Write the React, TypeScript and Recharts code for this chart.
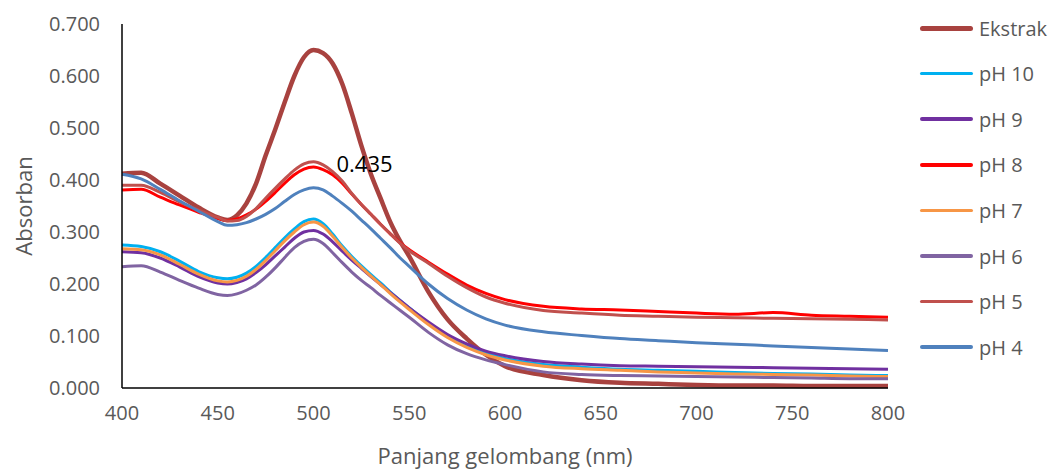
import React from 'react';
import { LineChart, Line, XAxis, YAxis, Label, LabelList } from 'recharts';

const wavelengths = [
  400, 410, 420, 430, 440, 450, 455, 460, 465, 470, 475, 480, 485, 490, 495, 500, 505, 510, 515, 520, 525,
  530, 535, 540, 545, 550, 560, 570, 580, 590, 600, 620, 640, 660, 680, 700, 720, 740, 760, 780, 800,
];

const ekstrak = [
  0.412, 0.414, 0.393, 0.37, 0.347, 0.328, 0.323, 0.332, 0.355, 0.393, 0.447, 0.497, 0.55, 0.6, 0.636, 0.65, 0.644,
  0.624, 0.585, 0.528, 0.466, 0.411, 0.365, 0.32, 0.284, 0.253, 0.185, 0.132, 0.095, 0.064, 0.042, 0.025, 0.015,
  0.01, 0.008, 0.006, 0.005, 0.005, 0.004, 0.004, 0.004,
];
const ph10 = [
  0.275, 0.272, 0.262, 0.244, 0.224, 0.212, 0.21, 0.213, 0.221, 0.234, 0.251, 0.27, 0.289, 0.306, 0.32, 0.325, 0.316,
  0.296, 0.273, 0.253, 0.235, 0.218, 0.202, 0.185, 0.169, 0.154, 0.125, 0.1, 0.081, 0.067, 0.057, 0.045, 0.04, 0.036,
  0.034, 0.032, 0.03, 0.028, 0.027, 0.025, 0.024,
];
const ph9 = [
  0.262, 0.26, 0.25, 0.233, 0.214, 0.202, 0.2, 0.203, 0.21, 0.222, 0.237, 0.254, 0.271, 0.288, 0.3, 0.303, 0.296,
  0.281, 0.263, 0.246, 0.23, 0.214, 0.199, 0.184, 0.169, 0.154, 0.127, 0.103, 0.085, 0.071, 0.062, 0.051, 0.046,
  0.043, 0.042, 0.041, 0.04, 0.039, 0.038, 0.037, 0.036,
];
const ph8 = [
  0.381, 0.382, 0.367, 0.352, 0.338, 0.326, 0.322, 0.325, 0.333, 0.344, 0.359, 0.376, 0.394, 0.41, 0.421, 0.425,
  0.42, 0.41, 0.394, 0.373, 0.353, 0.334, 0.315, 0.297, 0.28, 0.266, 0.242, 0.219, 0.198, 0.182, 0.17, 0.157, 0.152,
  0.15, 0.147, 0.144, 0.142, 0.145, 0.14, 0.138, 0.136,
];
const ph7 = [
  0.268, 0.266, 0.256, 0.238, 0.219, 0.206, 0.204, 0.207, 0.215, 0.228, 0.245, 0.264, 0.283, 0.3, 0.314, 0.319,
  0.311, 0.292, 0.27, 0.25, 0.232, 0.215, 0.199, 0.182, 0.166, 0.151, 0.122, 0.097, 0.078, 0.064, 0.054, 0.042,
  0.037, 0.034, 0.031, 0.029, 0.027, 0.026, 0.025, 0.023, 0.022,
];
const ph6 = [
  0.233, 0.235, 0.223, 0.207, 0.192, 0.18, 0.178, 0.181, 0.188, 0.198, 0.213, 0.231, 0.251, 0.27, 0.282, 0.286,
  0.278, 0.26, 0.241, 0.223, 0.207, 0.193, 0.178, 0.164, 0.15, 0.136, 0.107, 0.083, 0.066, 0.054, 0.045, 0.031,
  0.026, 0.024, 0.023, 0.022, 0.021, 0.02, 0.019, 0.018, 0.018,
];
const ph5 = [
  0.39, 0.39, 0.376, 0.358, 0.342, 0.328, 0.321, 0.322, 0.33, 0.345, 0.365, 0.384, 0.402, 0.419, 0.431, 0.435, 0.429,
  0.416, 0.398, 0.374, 0.353, 0.334, 0.315, 0.297, 0.279, 0.264, 0.24, 0.215, 0.193, 0.175, 0.163, 0.149, 0.144,
  0.14, 0.138, 0.136, 0.135, 0.134, 0.133, 0.132, 0.131,
];
const ph4 = [
  0.411, 0.402, 0.382, 0.36, 0.34, 0.32, 0.313, 0.314, 0.318, 0.325, 0.334, 0.345, 0.359, 0.372, 0.381, 0.385, 0.381,
  0.369, 0.355, 0.34, 0.323, 0.306, 0.288, 0.27, 0.251, 0.234, 0.2, 0.172, 0.15, 0.133, 0.121, 0.108, 0.101, 0.095,
  0.091, 0.087, 0.084, 0.081, 0.078, 0.075, 0.072,
];

const xTicks = [400, 450, 500, 550, 600, 650, 700, 750, 800];
const yTicks = [0, 0.1, 0.2, 0.3, 0.4, 0.5, 0.6, 0.7];

const series = [
  { key: 'Ekstrak', values: ekstrak, color: '#A8423F', width: 4.5 },
  { key: 'pH 10', values: ph10, color: '#00B0F0', width: 3 },
  { key: 'pH 9', values: ph9, color: '#7030A0', width: 3 },
  { key: 'pH 8', values: ph8, color: '#FF0000', width: 3 },
  { key: 'pH 7', values: ph7, color: '#F79646', width: 3 },
  { key: 'pH 6', values: ph6, color: '#8064A2', width: 3 },
  { key: 'pH 5', values: ph5, color: '#C0504D', width: 3 },
  { key: 'pH 4', values: ph4, color: '#4F81BD', width: 3 },
];

const data = wavelengths.map((wl, i) => {
  const row: Record<string, number> = { wl };
  series.forEach(s => { row[s.key] = s.values[i]; });
  return row;
});

// the only point carrying a data label: the pH 5 maximum
const peakIdx = ph5.indexOf(Math.max(...ph5));

const FONT = "'Open Sans', sans-serif";
const GREY = '#595959';

const App = () => {
  return (
    <div style={{ position: 'absolute', left: 0, top: 0, width: 1051, height: 471, background: '#fff', fontFamily: FONT }}>
      <LineChart width={1051} height={471} data={data} margin={{ top: 24, right: 163, bottom: 0, left: 0 }}>
        <XAxis
          dataKey="wl"
          type="number"
          domain={[400, 800]}
          ticks={xTicks}
          stroke="#000"
          strokeWidth={1.5}
          tickLine={false}
          tickSize={0}
          tickMargin={18}
          height={83}
          tick={{ fill: GREY, fontSize: 20, fontFamily: FONT }}
        >
          <Label value="Panjang gelombang (nm)" position="insideBottom" offset={7} fill={GREY} fontSize={22} fontFamily={FONT} />
        </XAxis>
        <YAxis
          type="number"
          domain={[0, 0.7]}
          ticks={yTicks}
          stroke="#000"
          strokeWidth={1.5}
          tickLine={false}
          tickSize={0}
          tickMargin={22}
          width={122}
          tickFormatter={(v: number) => v.toFixed(3)}
          tick={{ fill: GREY, fontSize: 20, fontFamily: FONT }}
        >
          <Label
            value="Absorban"
            position="insideLeft"
            angle={-90}
            offset={24}
            fill={GREY}
            fontSize={22}
            fontFamily={FONT}
            style={{ textAnchor: 'middle' }}
          />
        </YAxis>
        {series.map(s => (
          <Line
            key={s.key}
            type="monotone"
            dataKey={s.key}
            stroke={s.color}
            strokeWidth={s.width}
            dot={false}
            activeDot={false}
            isAnimationActive={false}
          >
            {s.key === 'pH 5' && (
              <LabelList
                dataKey={s.key}
                content={(p: any) =>
                  p.index === peakIdx ? (
                    <text x={p.x + 23} y={p.y + 10} fill="#000" fontSize={22} fontFamily={FONT}>
                      {Number(p.value).toFixed(3)}
                    </text>
                  ) : null
                }
              />
            )}
          </Line>
        ))}
      </LineChart>
      {series.map((s, i) => (
        <div
          key={s.key}
          style={{ position: 'absolute', left: 920, top: 28 + i * 45.6 - 14, height: 28, display: 'flex', alignItems: 'center' }}
        >
          <div style={{ width: 53, height: s.width + 0.5, background: s.color, borderRadius: 3 }} />
          <span style={{ marginLeft: 6, fontSize: 20, color: GREY, whiteSpace: 'nowrap' }}>{s.key}</span>
        </div>
      ))}
    </div>
  );
};

export default App;
